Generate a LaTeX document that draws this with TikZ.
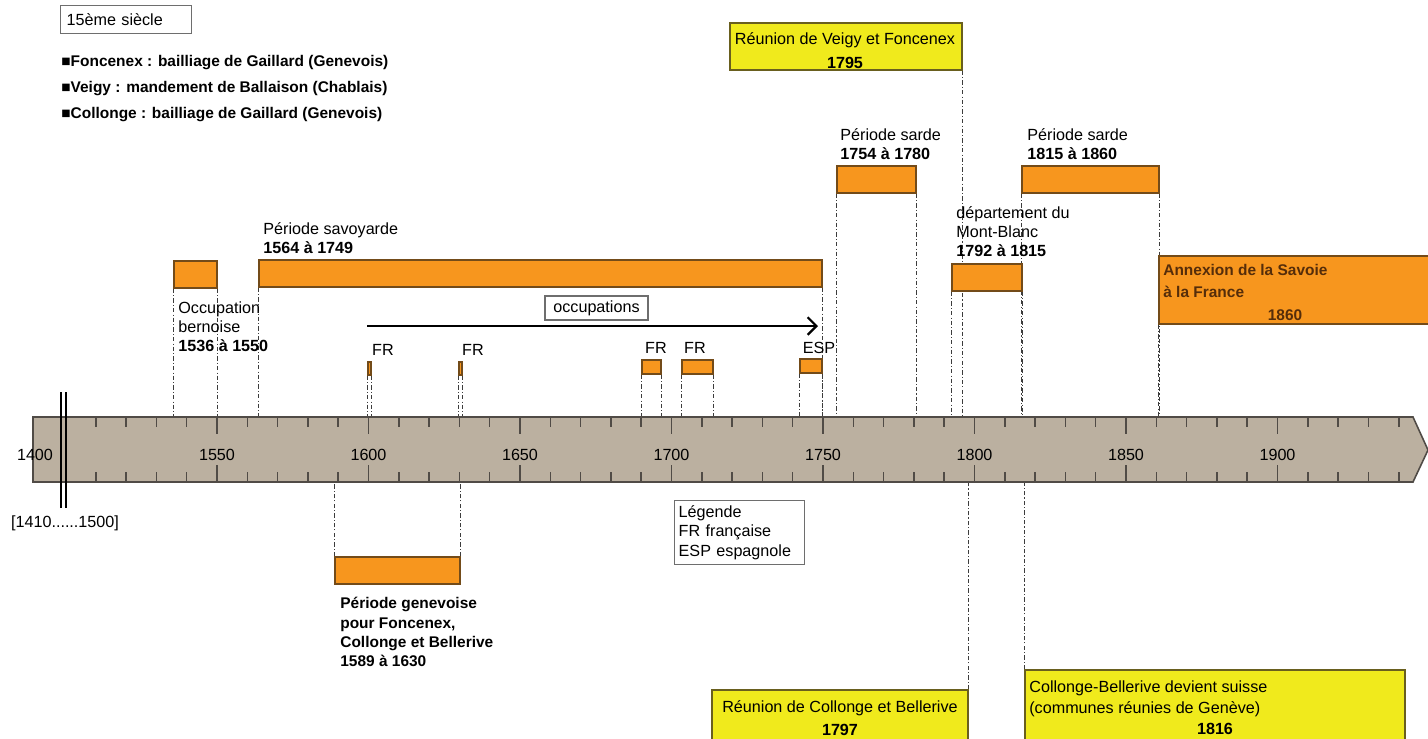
\documentclass[tikz,border=0pt]{standalone}
\usepackage{fontspec}
\setmainfont{Liberation Sans}
\usetikzlibrary{fit,arrows.meta,backgrounds}

\definecolor{bandfill}{RGB}{187,176,160}
\definecolor{banddraw}{RGB}{80,75,70}
\definecolor{orfill}{RGB}{247,150,30}
\definecolor{ordraw}{RGB}{115,75,25}
\definecolor{yelfill}{RGB}{240,234,28}
\definecolor{yeldraw}{RGB}{105,95,30}
\definecolor{guidegray}{RGB}{60,60,60}
\definecolor{framegray}{RGB}{110,110,110}
\definecolor{annexbrown}{RGB}{85,45,10}

% year -> x position (px)
\newcommand{\yr}[1]{217+(#1-1550)*3.03}

\begin{document}
\begin{tikzpicture}[x=0.02cm, y=-0.02cm,
  txt/.style={inner sep=0, font=\fontsize{9.2}{11}\selectfont},
  lbl/.style={txt, anchor=north west, align=left},
  periodbox/.style={draw=ordraw, fill=orfill, line width=0.8pt, inner sep=0},
  yelbox/.style={draw=yeldraw, fill=yelfill, line width=0.8pt, inner sep=0},
  framebox/.style={draw=framegray, line width=0.8pt, fill=white},
  guide/.style={guidegray, line width=0.5pt, dash pattern=on 2.5pt off 1.2pt on 0.6pt off 1.2pt},
  tick/.style={banddraw, line width=0.9pt}
]
\useasboundingbox (0,0) rectangle (1428,738);

% Timeline band
\draw[banddraw, line width=0.9pt, fill=bandfill] (33,417) -- (1413,417) -- (1428,450) -- (1413,482) -- (33,482) -- cycle;
\coordinate (bandtop) at (0,417);
\coordinate (bandbot) at (0,482);

% Ticks
\foreach \y in {1510,1520,...,1940}{
  \pgfmathsetmacro{\tx}{\yr{\y}}
  \pgfmathsetmacro{\tlen}{mod(\y,50)==0 ? 17 : 10}
  \draw[tick] (\tx,417) -- ++(0,\tlen);
  \draw[tick] (\tx,482) -- ++(0,-\tlen);
}

% Years
\foreach \y in {1550,1600,...,1900}{
  \pgfmathsetmacro{\tx}{\yr{\y}}
  \node[txt] (yr\y) at (\tx,455) {\y};
}
\node[txt] (start) at (35,455) {1400};

% Break of the scale
\draw[black, line width=1.2pt] (61,392) -- (61,508);
\draw[black, line width=1.2pt] (66,392) -- (66,508);
\node[txt] (range) at (65,523) {[1410......1500]};

% 15th century
\node[txt, framebox, anchor=north west, minimum height=0.56cm, text width=2.38cm, inner xsep=0.12cm, align=left] (siecle) at (60,5) {15ème siècle};
\node[lbl, font=\fontsize{8.8}{14.7}\selectfont\bfseries] (communes) at (61,55)
  {■Foncenex : bailliage de Gaillard (Genevois)\\■Veigy : mandement de Ballaison (Chablais)\\■Collonge : bailliage de Gaillard (Genevois)};

% Periods
\node[periodbox, fit={(174,261) (217,288)}] (bern) {};
\node[periodbox, fit={(259,260) (822,287)}] (savoy) {};
\node[periodbox, fit={(368,362) (371,375)}] (fra) {};
\node[periodbox, fit={(459,362) (462,375)}] (frb) {};
\node[periodbox, fit={(642,360) (661,374)}] (frc) {};
\node[periodbox, fit={(682,360) (713,374)}] (frd) {};
\node[periodbox, fit={(800,359) (822,373)}] (esp) {};
\node[periodbox, fit={(837,166) (916,193)}] (sardea) {};
\node[periodbox, fit={(952,264) (1022,291)}] (montblanc) {};
\node[periodbox, fit={(1022,166) (1159,193)}] (sardeb) {};
\node[periodbox, fit={(1159,256) (1440,324)}] (annex) {};
\node[periodbox, fit={(335,557) (460,584)}] (genev) {};

% Events
\node[yelbox, fit={(730,23) (962,70)}] (veigy) {};
\node[yelbox, fit={(712,690) (968,750)}] (collonge) {};
\node[yelbox, fit={(1025,670) (1405,750)}] (suisse) {};

% Labels
\node[lbl] (bernlbl) at (178,301) {Occupation\\bernoise\\\textbf{1536 à 1550}};
\node[lbl] (savoylbl) at (263,222) {Période savoyarde\\\textbf{1564 à 1749}};
\node[lbl] (sardealbl) at (840,128) {Période sarde\\\textbf{1754 à 1780}};
\node[lbl] (sardeblbl) at (1027,128) {Période sarde\\\textbf{1815 à 1860}};
\node[lbl] (montblanclbl) at (956,206) {département du\\Mont-Blanc\\\textbf{1792 à 1815}};
\node[lbl, font=\fontsize{8.8}{11}\selectfont\bfseries] (genevlbl) at (340,597)
  {Période genevoise\\pour Foncenex,\\Collonge et Bellerive\\1589 à 1630};
\node[lbl, font=\fontsize{8.8}{12.7}\selectfont\bfseries, text=annexbrown] (annexlbl) at (1163,264)
  {Annexion de la Savoie\\à la France};
\node[txt, font=\fontsize{8.8}{11}\selectfont\bfseries, text=annexbrown] (annexyr) at (1285,315) {1860};

\node[txt] (fralbl) at (383,350) {FR};
\node[txt] (frblbl) at (473,350) {FR};
\node[txt] (frclbl) at (656,348) {FR};
\node[txt] (frdlbl) at (695,348) {FR};
\node[txt] (esplbl) at (819,348) {ESP};

\node[txt, anchor=north, align=center, font=\fontsize{9.2}{13.6}\selectfont] (veigytxt) at (845,32)
  {Réunion de Veigy et Foncenex\\\textbf{1795}};
\node[txt, anchor=north, align=center, font=\fontsize{9.2}{13}\selectfont] (collongetxt) at (840,700)
  {Réunion de Collonge et Bellerive\\\textbf{1797}};
\node[lbl, font=\fontsize{9.2}{12.2}\selectfont] (suissetxt) at (1029,680)
  {Collonge-Bellerive devient suisse\\(communes réunies de Genève)};
\node[txt, font=\fontsize{9.2}{11}\selectfont\bfseries] (suisseyr) at (1215,729) {1816};

% Legend
\node[txt, framebox, anchor=north west, text width=2.44cm, inner xsep=0.08cm, inner ysep=0.1cm, align=left] (legende) at (674,500)
  {Légende\\FR française\\ESP espagnole};

% Occupations arrow
\node[txt, framebox, minimum width=2.06cm, minimum height=0.48cm] (occup) at (596.5,308) {occupations};
\coordinate (occstart) at (367,326);
\coordinate (occend) at (818,326);
\draw[-{Straight Barb[length=5pt,width=10pt]}, line width=1.3pt] (occstart) -- (occend);

% Guide lines down to the band
\begin{scope}[on background layer]
\foreach \b in {bern,savoy,fra,frb,frc,frd,esp,sardea,sardeb,montblanc}{
  \draw[guide] (\b.south west) -- (\b.south west |- bandtop);
  \draw[guide] (\b.south east) -- (\b.south east |- bandtop);
}
\draw[guide] (veigy.south east) -- (veigy.south east |- bandtop);
\draw[guide] (annex.south west) -- (annex.south west |- bandtop);
\draw[guide] (genev.north west) -- (genev.north west |- bandbot);
\draw[guide] (genev.north east) -- (genev.north east |- bandbot);
\draw[guide] (collonge.north east) -- (collonge.north east |- bandbot);
\draw[guide] (suisse.north west) -- (suisse.north west |- bandbot);
\end{scope}

\end{tikzpicture}
\end{document}
